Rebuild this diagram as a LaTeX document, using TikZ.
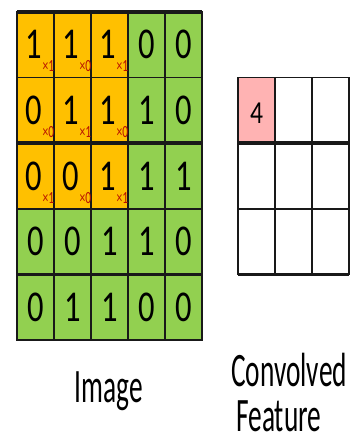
\documentclass[tikz,border=0pt]{standalone}
\usepackage{fontspec}
\setmainfont{Carlito}
\usepackage{graphicx}
\definecolor{cellorange}{RGB}{255,192,0}
\definecolor{cellgreen}{RGB}{146,208,80}
\definecolor{cellpink}{RGB}{255,179,179}
\definecolor{subred}{RGB}{185,20,0}
\definecolor{gridline}{RGB}{25,25,25}
\newcommand{\celldigit}[1]{\scalebox{0.74}[1]{\fontsize{44}{44}\selectfont #1}}
\newcommand{\weightsub}[1]{\scalebox{0.68}[1]{\fontsize{17}{17}\selectfont\textcolor{subred}{×#1}}}
\newcommand{\biglabel}[1]{\scalebox{0.57}[1]{\fontsize{48}{48}\selectfont #1}}
\begin{document}
\begin{tikzpicture}[x=1pt,y=-1pt,
  cell/.style={rectangle, draw=gridline, line width=1.4pt, minimum width=37pt,
    minimum height=65.6pt, inner sep=0pt, outer sep=0pt, anchor=north west},
  digit/.style={inner sep=0pt, text=black},
  wsub/.style={inner sep=0pt, anchor=north west, xshift=0.5pt, yshift=-1.5pt},
  thickrule/.style={draw=gridline, line width=3.5pt},
  caption/.style={inner sep=0pt}]
\useasboundingbox[fill=white] (0,0) rectangle (350,439);
% image grid
\foreach \row [count=\r] in {{1,1,1,0,0},{0,1,1,1,0},{0,0,1,1,1},{0,0,1,1,0},{0,1,1,0,0}} {
  \foreach \v [count=\c] in \row {
    \ifnum\r<4 \ifnum\c<4 \def\cc{cellorange}\def\dx{-2pt}\else\def\cc{cellgreen}\def\dx{0pt}\fi\else\def\cc{cellgreen}\def\dx{0pt}\fi
    \node[cell, fill=\cc] (img-\r-\c) at ({17+37*(\c-1)},{12+65.6*(\r-1)}) {};
    \node[digit] (d-\r-\c) at ([xshift=\dx]img-\r-\c.center) {\celldigit{\v}};
  }
}
% kernel weights
\foreach \row [count=\r] in {{1,0,1},{0,1,0},{1,0,1}} {
  \foreach \w [count=\c] in \row {
    \node[wsub] (w-\r-\c) at (d-\r-\c.south east) {\weightsub{\w}};
  }
}
\draw[thickrule] (img-1-1.north west) -- (img-1-5.north east);
\draw[thickrule] (img-3-1.north west) -- (img-3-5.north east);
\draw[thickrule] (img-5-1.north west) -- (img-5-5.north east);
% convolved feature grid
\foreach \r in {1,2,3} {
  \foreach \c in {1,2,3} {
    \node[cell, fill=white] (feat-\r-\c) at ({238+37*(\c-1)},{77.6+65.6*(\r-1)}) {};
  }
}
\node[cell, fill=cellpink] (feat-1-1) at (238,77.6) {};
\node[inner sep=0pt] (four) at ([yshift=-3pt]feat-1-1.center) {\scalebox{0.8}[1]{\fontsize{32}{32}\selectfont 4}};
\draw[thickrule] (feat-2-1.north west) -- (feat-2-3.north east);
\draw[thickrule] (feat-3-1.south west) -- (feat-3-3.south east);
% captions
\node[caption, anchor=base] (imglabel) at (109,402) {\biglabel{Image}};
\node[caption, anchor=base west] (convlabel) at (231,386) {\biglabel{Convolved}};
\node[caption, anchor=base west] (featlabel) at (236,431) {\biglabel{Feature}};
\end{tikzpicture}
\end{document}
